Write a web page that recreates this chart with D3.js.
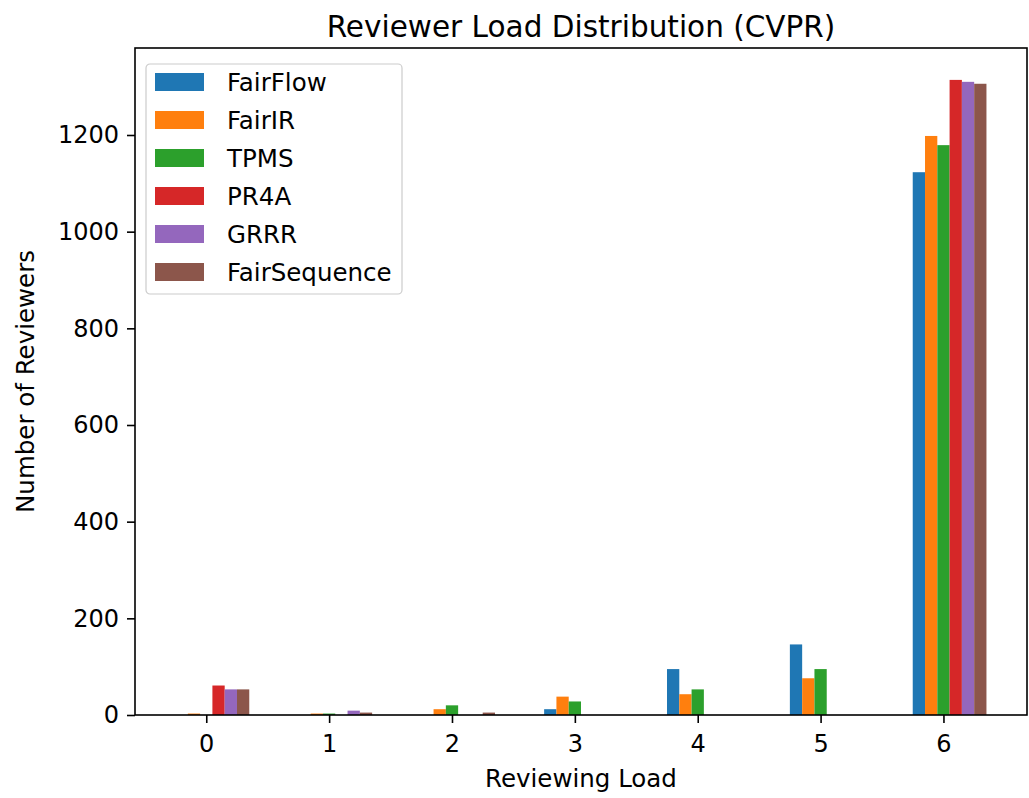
<!DOCTYPE html>
<html>
<head>
<meta charset="utf-8">
<script src="https://cdn.jsdelivr.net/npm/d3@7"></script>
<style>
  body { margin: 0; background: #fff; }
  text { font-family: "DejaVu Sans", sans-serif; fill: #000; }
</style>
</head>
<body>
<svg id="chart" width="1029" height="798"></svg>
<script>
const loads = [0, 1, 2, 3, 4, 5, 6];
const methods = ['FairFlow', 'FairIR', 'TPMS', 'PR4A', 'GRRR', 'FairSequence'];
const colors = ['#1f77b4', '#ff7f0e', '#2ca02c', '#d62728', '#9467bd', '#8c564b'];

const fairFlow = [0, 0, 0, 12, 95, 146, 1123];
const fairIR = [3, 3, 12, 38, 43, 76, 1198];
const tpms = [0, 3, 20, 28, 53, 95, 1179];
const pr4a = [61, 0, 0, 0, 0, 0, 1314];
const grrr = [53, 9, 0, 0, 0, 0, 1310];
const fairSequence = [53, 5, 5, 0, 0, 0, 1306];
const series = [fairFlow, fairIR, tpms, pr4a, grrr, fairSequence];

const yTicks = [0, 200, 400, 600, 800, 1000, 1200];

const svg = d3.select('#chart');
const plotLeft = 135, plotRight = 1027, plotTop = 48, plotBottom = 715;
const barW = 0.1;

const x = d3.scaleLinear().domain([-0.58, 6.68]).range([plotLeft, plotRight]);
const y = d3.scaleLinear().domain([0, 1380]).range([plotBottom, plotTop]);

// bars
series.forEach((vals, i) => {
  svg.append('g')
    .selectAll('rect')
    .data(vals.map((v, j) => ({ load: loads[j], v })))
    .enter()
    .append('rect')
    .attr('x', d => x(d.load + (i - 2) * barW - barW / 2))
    .attr('width', x(barW) - x(0))
    .attr('y', d => y(d.v))
    .attr('height', d => y(0) - y(d.v))
    .attr('fill', colors[i]);
});

// axes
const xAxis = svg.append('g')
  .attr('transform', `translate(0,${plotBottom})`)
  .call(d3.axisBottom(x).tickValues(loads).tickFormat(d3.format('d')).tickSize(8).tickPadding(6));
const yAxis = svg.append('g')
  .attr('transform', `translate(${plotLeft},0)`)
  .call(d3.axisLeft(y).tickValues(yTicks).tickFormat(d3.format('d')).tickSize(8).tickPadding(8));
[xAxis, yAxis].forEach(a => {
  a.select('.domain').remove();
  a.selectAll('line').attr('stroke', '#000').attr('stroke-width', 1.6);
  a.selectAll('text').attr('font-size', 24).attr('font-family', 'DejaVu Sans');
});
xAxis.selectAll('text').attr('dy', null).attr('y', 37);

svg.append('rect')
  .attr('x', plotLeft).attr('y', plotTop)
  .attr('width', plotRight - plotLeft).attr('height', plotBottom - plotTop)
  .attr('fill', 'none').attr('stroke', '#000').attr('stroke-width', 1.6);

// labels
svg.append('text')
  .attr('x', (plotLeft + plotRight) / 2).attr('y', 37)
  .attr('text-anchor', 'middle').attr('font-size', 29.5)
  .text('Reviewer Load Distribution (CVPR)');
svg.append('text')
  .attr('x', (plotLeft + plotRight) / 2).attr('y', 787)
  .attr('text-anchor', 'middle').attr('font-size', 24.5)
  .text('Reviewing Load');
svg.append('text')
  .attr('transform', `translate(34,${(plotTop + plotBottom) / 2}) rotate(-90)`)
  .attr('text-anchor', 'middle').attr('font-size', 24.5)
  .text('Number of Reviewers');

// legend
const legend = svg.append('g').attr('transform', 'translate(146,64)');
legend.append('rect')
  .attr('width', 256).attr('height', 230).attr('rx', 4)
  .attr('fill', '#fff').attr('fill-opacity', 0.8)
  .attr('stroke', '#ccc').attr('stroke-width', 1.2);
methods.forEach((m, i) => {
  const g = legend.append('g').attr('transform', `translate(0,${9 + i * 38})`);
  g.append('rect').attr('x', 9).attr('y', 0).attr('width', 49).attr('height', 18).attr('fill', colors[i]);
  g.append('text').attr('x', 81).attr('y', 18).attr('font-size', 24.5).text(m);
});
</script>
</body>
</html>
